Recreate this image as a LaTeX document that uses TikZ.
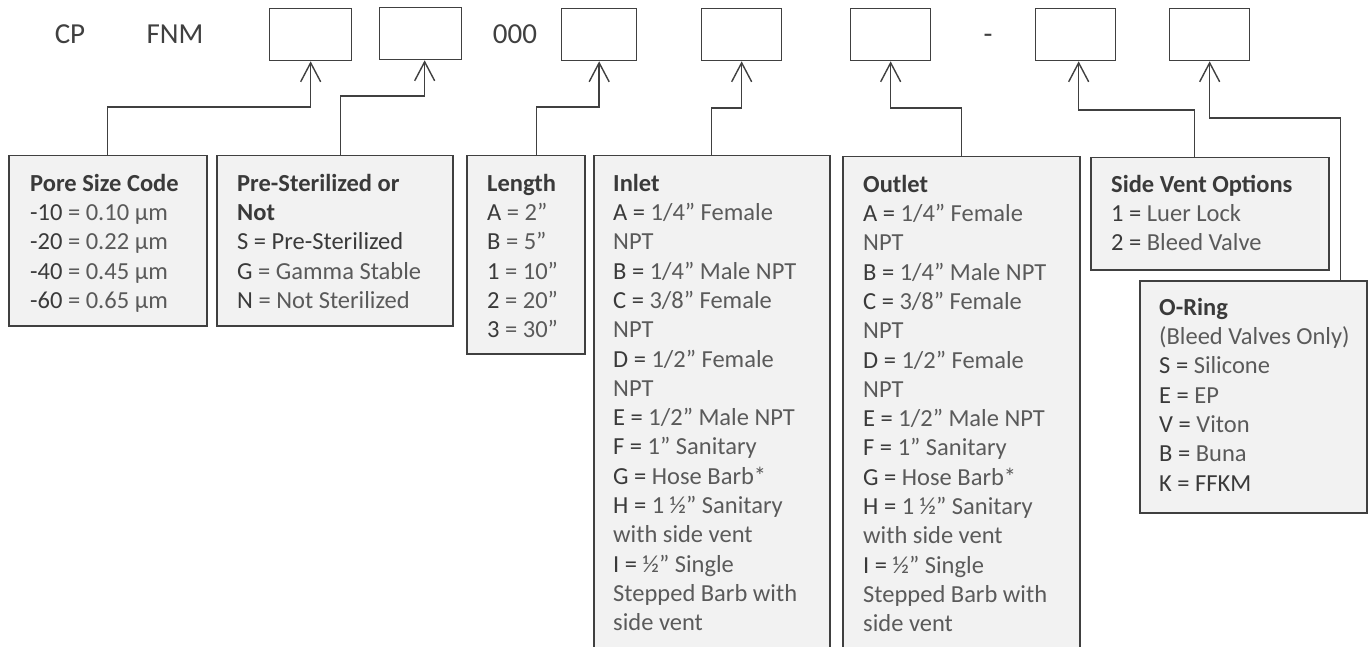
\documentclass[tikz,border=0pt]{standalone}
\usepackage{fontspec}
\setmainfont{Carlito}
\usetikzlibrary{arrows.meta}
\definecolor{ln}{HTML}{404040}
\definecolor{fillc}{HTML}{F2F2F2}
\definecolor{codec}{HTML}{3A3A3A}
\definecolor{bodyc}{HTML}{5A5A5A}
\newcommand{\cd}[1]{\textcolor{codec}{#1}}
\newcommand{\ttl}[1]{\textcolor{codec}{\bfseries #1}}
\newcommand{\st}{\rule{0pt}{20pt}}
\begin{document}
\begin{tikzpicture}[x=1pt,y=-1pt,
 topbox/.style={draw=ln, line width=1.3pt, minimum height=52pt, inner sep=0, anchor=north west},
 infobox/.style={draw=ln, fill=fillc, line width=1.5pt, inner sep=0, anchor=north west},
 txt/.style={anchor=north west, inner sep=0, align=left, text=bodyc, font=\fontsize{24.5}{29.3}\selectfont},
 toptxt/.style={inner sep=0, anchor=base, text=ln, font=\fontsize{29}{34}\selectfont},
 conn/.style={draw=ln, line width=1.4pt, -{Straight Barb[length=19pt,width=20pt]}}]
\useasboundingbox (0,0) rectangle (1372,647);
\fill[white] (0,0) rectangle (1372,647);

% top row
\node[toptxt] (cp) at (70,44) {CP};
\node[toptxt] (fnm) at (175,44) {FNM};
\node[toptxt] (zeros) at (515,44) {000};
\node[toptxt] (dash) at (988,44) {-};
\node[topbox, minimum width=82pt] (t1) at (269,8) {};
\node[topbox, minimum width=82pt] (t2) at (379,7) {};
\node[topbox, minimum width=75pt] (t3) at (561,8) {};
\node[topbox, minimum width=80pt] (t4) at (701,8) {};
\node[topbox, minimum width=80pt] (t5) at (850,8) {};
\node[topbox, minimum width=80pt] (t6) at (1035,8) {};
\node[topbox, minimum width=80pt] (t7) at (1169,8) {};

% info boxes
\node[infobox, minimum width=198pt, minimum height=170pt] (b1) at (8,155) {};
\node[infobox, minimum width=236pt, minimum height=170pt] (b2) at (216,155) {};
\node[infobox, minimum width=118pt, minimum height=198pt] (b3) at (466,155) {};
\node[infobox, minimum width=236pt, minimum height=500pt] (b4) at (593,155) {};
\node[infobox, minimum width=237pt, minimum height=500pt] (b5) at (842,156) {};
\node[infobox, minimum width=238pt, minimum height=112pt] (b6) at (1090,157) {};
\node[infobox, minimum width=227pt, minimum height=232pt] (b7) at (1139,280) {};

% connectors
\draw[conn] (b1.north) -- ++(0,-48) -| (t1.south);
\draw[conn] ([xshift=6pt]b2.north) -- ++(0,-59) -| ([xshift=4pt]t2.south);
\draw[conn] ([xshift=11pt]b3.north) -- ++(0,-48) -| (t3.south);
\draw[conn] (b4.north) -- ++(0,-47) -| (t4.south);
\draw[conn] (b5.north) -- ++(0,-48) -| (t5.south);
\draw[conn] ([xshift=-15pt]b6.north) -- ++(0,-47) -| ([xshift=3pt]t6.south);
\draw[conn] ([xshift=87pt]b7.north) -- ++(0,-162) -| (t7.south);

% texts
\node[txt] (x1) at (30,171) {\st\ttl{Pore Size Code}\\
\cd{-10} = 0.10 µm\\ \cd{-20} = 0.22 µm\\ \cd{-40} = 0.45 µm\\ \cd{-60} = 0.65 µm};
\node[txt] (x2) at (237,171) {\st\ttl{Pre-Sterilized or}\\ \ttl{Not}\\
\cd{S = Pre-Sterilized}\\ \cd{G} = Gamma Stable\\ \cd{N} = Not Sterilized};
\node[txt] (x3) at (487,171) {\st\ttl{Length}\\ \cd{A} = 2”\\ \cd{B} = 5”\\
\cd{1} = 10”\\ \cd{2} = 20”\\ \cd{3} = 30”};
\node[txt] (x4) at (613,171) {\st\ttl{Inlet}\\ \cd{A =} 1/4” Female\\ NPT\\
\cd{B =} 1/4” Male NPT\\ \cd{C =} 3/8” Female\\ NPT\\ \cd{D =} 1/2” Female\\ NPT\\
\cd{E =} 1/2” Male NPT\\ \cd{F =} 1” Sanitary\\ \cd{G =} Hose Barb*\\
\cd{H =} 1 ½” Sanitary\\ with side vent\\ \cd{I =} ½” Single\\ Stepped Barb with\\ side vent};
\node[txt] (x5) at (863,172) {\st\ttl{Outlet}\\ \cd{A =} 1/4” Female\\ NPT\\
\cd{B =} 1/4” Male NPT\\ \cd{C =} 3/8” Female\\ NPT\\ \cd{D =} 1/2” Female\\ NPT\\
\cd{E =} 1/2” Male NPT\\ \cd{F =} 1” Sanitary\\ \cd{G =} Hose Barb*\\
\cd{H =} 1 ½” Sanitary\\ with side vent\\ \cd{I =} ½” Single\\ Stepped Barb with\\ side vent};
\node[txt] (x6) at (1111,172) {\st\ttl{Side Vent Options}\\ \cd{1 =} Luer Lock\\ \cd{2 =} Bleed Valve};
\node[txt] (x7) at (1159,295) {\st\ttl{O-Ring}\\ (Bleed Valves Only)\\ \cd{S =} Silicone\\
\cd{E =} EP\\ \cd{V =} Viton\\ \cd{B =} Buna\\ \cd{K = FFKM}};
\end{tikzpicture}
\end{document}
